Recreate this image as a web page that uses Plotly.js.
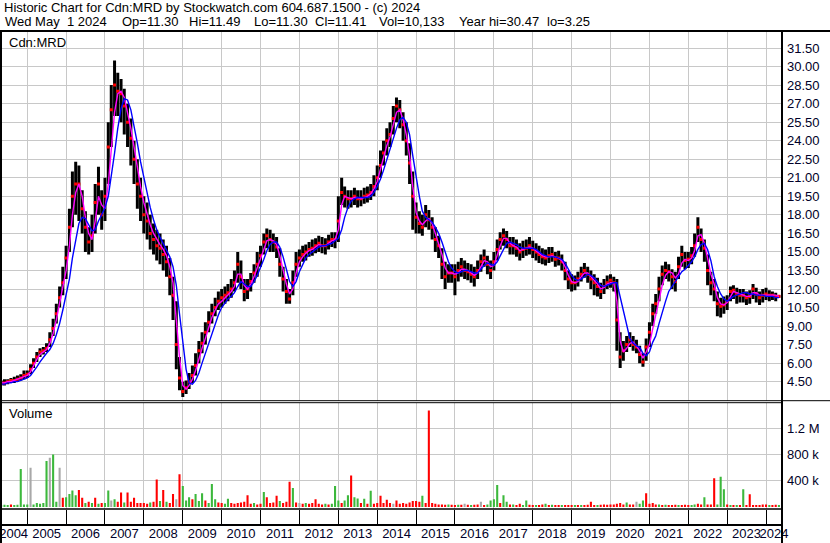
<!DOCTYPE html>
<html>
<head>
<meta charset="utf-8">
<script src="https://cdn.plot.ly/plotly-3.0.1.min.js"></script>
<style>html,body{margin:0;padding:0;background:#fff;}#chart{width:830px;height:543px;}</style>
</head>
<body>
<div id="chart"></div>
<script>
// ---- DATA (monthly, May 2004 .. May 2024) ----
const firstMonth = {year: 2004, month: 5};
const priceHigh = [
 4.6,4.7,4.7,4.8,4.9,5.0,5.1,5.4,
 5.4,5.9,6.4,6.9,7.2,7.3,7.6,8.5,9.6,10.8,12.2,13.8,
 15.5,18.5,21.5,22.3,22.0,20.0,18.3,17.0,18.0,20.5,21.9,20.0,
 21.0,25.5,28.5,30.5,29.5,29.0,28.2,27.0,25.8,24.0,22.5,21.0,
 19.5,19.0,18.0,17.3,16.8,16.5,16.0,15.5,14.5,13.0,11.0,6.5,
 4.5,4.6,5.2,5.8,6.8,7.8,8.5,9.3,10.2,10.8,11.3,11.8,
 12.0,12.2,12.4,12.8,13.5,15.0,14.3,12.8,12.8,13.3,14.0,15.0,
 15.5,16.5,16.9,16.8,16.5,16.2,15.3,13.8,12.8,12.0,13.5,15.0,
 15.2,15.5,15.6,15.8,16.0,16.1,16.3,16.2,16.1,16.4,16.6,16.6,
 19.5,21.0,20.3,20.0,20.0,20.2,20.0,20.0,20.2,20.3,20.5,21.2,
 22.0,23.2,24.0,25.0,25.5,26.8,27.5,27.3,26.3,25.5,23.8,21.5,
 19.0,18.3,18.0,18.8,18.4,17.8,17.0,16.3,15.3,14.2,14.0,14.0,
 14.0,14.2,14.5,14.3,14.1,14.0,13.8,14.3,14.8,15.2,14.7,14.3,
 15.0,16.0,16.6,16.9,16.7,16.2,16.2,16.0,15.7,15.9,16.0,16.2,
 15.9,15.7,15.5,15.3,15.2,15.4,15.4,15.0,15.1,14.8,14.2,13.5,
 13.2,13.1,13.4,13.8,14.1,13.8,13.5,13.2,12.9,12.5,12.8,13.1,
 13.2,13.0,12.8,8.5,7.8,8.2,8.5,8.2,7.9,7.4,6.8,8.0,
 9.3,10.8,11.6,13.0,13.9,14.2,14.0,13.6,13.4,14.6,15.5,15.0,
 15.0,15.4,16.5,17.8,16.9,16.0,14.8,13.4,12.8,11.8,11.3,11.4,
 11.5,12.2,12.3,12.1,12.0,12.0,11.8,11.9,12.4,12.1,11.8,12.0,
 12.1,11.9,11.8,11.7,11.49];
const priceLow = [
 4.2,4.2,4.3,4.4,4.4,4.5,4.6,4.7,
 4.8,5.1,5.6,6.1,6.5,6.7,6.9,7.3,8.2,9.2,10.5,11.5,
 12.8,15.0,17.0,18.0,17.5,16.5,15.0,14.8,15.0,16.5,18.0,16.8,
 17.5,20.5,23.5,26.0,26.0,25.5,24.5,23.5,22.0,20.5,18.5,17.5,
 16.5,16.0,15.2,14.8,14.3,14.0,13.5,13.0,11.5,9.5,5.5,3.8,
 3.25,3.5,3.9,4.4,5.0,6.0,6.8,7.5,8.5,9.2,9.8,10.3,
 10.5,10.8,11.0,11.3,11.8,12.5,12.0,11.0,11.2,11.8,12.5,13.0,
 13.8,14.8,15.3,15.0,15.0,14.5,13.0,11.8,10.8,10.8,11.5,13.0,
 13.8,14.2,14.3,14.6,14.7,14.9,15.0,14.9,14.8,15.2,15.4,15.3,
 15.8,18.8,18.6,18.5,18.6,18.8,18.6,18.7,18.9,19.0,19.2,19.5,
 20.0,21.0,22.0,22.8,23.5,24.5,25.5,25.0,24.0,22.8,20.5,16.8,
 16.5,16.5,16.3,17.0,16.8,16.0,15.0,14.5,12.8,12.0,12.5,12.5,
 11.5,12.6,13.0,12.8,12.7,12.5,12.2,12.8,13.4,13.8,13.2,12.8,
 13.5,14.3,15.2,15.5,15.3,14.8,14.8,14.6,14.3,14.5,14.7,14.8,
 14.5,14.3,14.1,14.0,13.9,14.1,14.2,13.8,13.9,13.5,12.7,12.0,
 11.8,11.9,12.2,12.6,12.9,12.5,12.0,11.5,11.4,11.2,11.6,12.0,
 12.1,11.8,7.0,5.6,6.2,6.9,7.3,7.0,6.8,6.0,5.7,6.2,
 7.3,9.0,10.0,11.0,12.3,12.8,12.6,12.0,11.8,12.8,13.8,13.6,
 13.7,14.0,14.6,15.8,15.0,14.2,12.3,11.5,11.0,9.8,9.7,10.0,
 10.3,11.0,11.2,10.8,10.9,10.9,10.7,10.8,11.2,10.9,10.7,10.9,
 11.1,11.0,11.1,11.0,11.30];
const priceClose = [
 4.4,4.4,4.5,4.6,4.6,4.7,4.8,5.0,
 5.1,5.5,6.0,6.5,6.9,7.0,7.2,7.9,8.8,10.0,11.3,12.5,
 14.5,17.0,19.5,20.5,20.5,18.5,17.0,15.8,16.3,19.0,20.5,18.0,
 19.5,23.5,26.5,28.5,28.0,27.8,26.8,25.5,24.2,22.5,20.5,19.5,
 18.0,17.5,16.5,16.0,15.5,15.3,14.8,14.2,13.0,11.5,7.5,4.8,
 3.7,4.0,4.5,5.0,5.8,7.0,7.6,8.5,9.3,10.0,10.5,11.0,
 11.3,11.5,11.7,12.0,12.5,14.0,13.0,11.8,12.0,12.6,13.3,14.0,
 14.7,15.8,16.3,16.0,15.8,15.4,14.0,12.8,11.8,11.2,12.5,14.0,
 14.5,14.8,15.0,15.2,15.3,15.5,15.7,15.5,15.5,15.8,16.0,16.0,
 17.5,19.8,19.5,19.3,19.3,19.5,19.3,19.3,19.5,19.6,19.8,20.3,
 21.0,22.0,23.0,24.0,24.5,25.8,26.8,26.5,25.3,24.0,22.2,19.5,
 17.8,17.3,17.0,18.0,17.6,17.0,16.0,15.5,14.0,13.0,13.3,13.3,
 13.0,13.5,13.8,13.5,13.4,13.2,13.0,13.5,14.2,14.5,14.0,13.5,
 14.2,15.2,16.0,16.3,16.0,15.5,15.5,15.3,15.0,15.2,15.3,15.5,
 15.2,15.0,14.8,14.6,14.5,14.7,14.8,14.4,14.5,14.2,13.5,12.8,
 12.5,12.5,12.8,13.2,13.5,13.2,12.8,12.5,12.2,11.8,12.2,12.5,
 12.7,12.5,9.5,6.5,7.0,7.5,7.9,7.5,7.3,6.7,6.1,7.3,
 8.5,10.0,10.8,12.0,13.2,13.5,13.4,13.0,12.6,13.8,14.8,14.3,
 14.4,14.7,15.5,17.0,16.0,15.3,13.5,12.5,12.0,10.8,10.6,10.7,
 11.0,11.8,11.9,11.6,11.5,11.5,11.3,11.4,12.0,11.6,11.3,11.5,
 11.6,11.5,11.5,11.4,11.41];
const avgShort = [
 4.4,4.4,4.5,4.5,4.6,4.7,4.8,4.9,
 5.0,5.3,5.8,6.3,6.7,6.9,7.1,7.6,8.4,9.5,10.8,12.0,
 13.5,15.5,18.0,19.8,20.5,19.5,17.8,16.5,16.0,17.5,19.5,18.8,
 18.5,20.5,23.5,26.3,27.8,28.0,27.5,26.3,25.0,23.5,21.8,20.3,
 19.0,18.0,17.2,16.5,16.0,15.6,15.2,14.7,13.8,12.5,9.5,6.5,
 4.2,3.9,4.2,4.7,5.4,6.4,7.2,8.0,8.9,9.7,10.3,10.8,
 11.0,11.3,11.5,11.8,12.2,13.2,13.2,12.3,12.0,12.4,13.0,13.7,
 14.3,15.2,15.9,16.0,15.9,15.6,14.7,13.5,12.4,11.6,12.0,13.3,
 14.2,14.6,14.9,15.1,15.2,15.4,15.6,15.5,15.5,15.7,15.9,16.0,
 16.8,18.8,19.5,19.4,19.3,19.4,19.4,19.3,19.4,19.5,19.7,20.1,
 20.7,21.6,22.6,23.6,24.3,25.3,26.3,26.5,25.7,24.5,22.8,20.3,
 18.2,17.5,17.2,17.5,17.7,17.3,16.5,15.8,14.8,13.7,13.3,13.3,
 13.2,13.3,13.6,13.6,13.5,13.3,13.1,13.3,13.8,14.3,14.2,13.8,
 13.9,14.7,15.5,16.1,16.1,15.7,15.5,15.4,15.1,15.2,15.3,15.4,
 15.3,15.1,14.9,14.7,14.6,14.6,14.7,14.6,14.5,14.3,13.8,13.1,
 12.6,12.5,12.6,13.0,13.3,13.3,13.0,12.7,12.4,12.0,12.1,12.4,
 12.5,12.5,11.0,7.8,6.9,7.2,7.6,7.7,7.4,7.0,6.4,6.9,
 7.5,8.8,10.0,11.1,12.3,13.1,13.4,13.3,12.9,13.2,14.1,14.4,
 14.3,14.5,15.1,16.3,16.4,15.7,14.5,13.2,12.4,11.3,10.8,10.7,
 10.9,11.4,11.8,11.7,11.6,11.5,11.4,11.4,11.7,11.7,11.5,11.5,
 11.5,11.5,11.5,11.5,11.4];
const avgLong = [
 4.3,4.3,4.4,4.4,4.5,4.5,4.6,4.7,
 4.8,5.0,5.3,5.7,6.1,6.5,6.8,7.1,7.6,8.3,9.2,10.3,
 11.5,12.8,14.5,16.0,17.3,17.8,17.7,17.2,16.7,16.8,17.5,18.0,
 18.6,19.5,21.0,23.0,25.0,26.6,27.4,27.3,26.5,25.3,23.8,22.3,
 21.0,19.8,18.6,17.6,16.8,16.2,15.7,15.2,14.6,13.8,12.3,10.0,
 7.5,5.5,4.4,4.3,4.6,5.2,6.0,6.8,7.6,8.4,9.2,9.9,
 10.5,10.9,11.2,11.4,11.7,12.2,12.6,12.4,12.2,12.2,12.6,13.1,
 13.7,14.4,15.1,15.6,15.8,15.8,15.4,14.6,13.6,12.6,12.2,12.6,
 13.4,14.0,14.5,14.8,15.0,15.2,15.4,15.5,15.5,15.6,15.7,15.9,
 16.1,16.8,17.8,18.6,19.1,19.3,19.4,19.4,19.4,19.4,19.5,19.8,
 20.3,20.9,21.6,22.5,23.3,24.1,25.0,25.7,25.9,25.5,24.5,22.8,
 21.0,19.5,18.3,17.8,17.6,17.4,17.0,16.5,15.8,15.0,14.2,13.7,
 13.4,13.3,13.4,13.5,13.5,13.4,13.3,13.3,13.6,13.9,14.1,14.0,
 13.9,14.2,14.7,15.3,15.7,15.8,15.7,15.6,15.4,15.3,15.3,15.3,
 15.3,15.2,15.0,14.8,14.7,14.6,14.6,14.6,14.5,14.4,14.1,13.6,
 13.1,12.8,12.7,12.8,13.0,13.2,13.1,12.9,12.6,12.3,12.2,12.3,
 12.4,12.5,12.5,11.3,10.2,8.9,8.0,7.6,7.4,7.3,6.8,6.6,
 6.9,7.7,8.2,9.2,10.2,11.0,11.8,12.2,12.7,13.0,13.4,13.6,
 13.9,14.2,14.6,15.2,15.6,15.7,15.2,14.3,13.0,12.2,11.6,11.2,
 11.0,11.2,11.4,11.5,11.6,11.7,11.7,11.6,11.6,11.5,11.5,11.5,
 11.4,11.4,11.4,11.3,11.3];
// volume in thousands of shares
const volumeK = [
 30,35,30,40,30,35,580,40,
 40,600,40,60,50,60,700,750,800,80,600,140,
 150,200,250,180,260,140,60,80,60,140,50,60,
 60,250,100,120,80,220,70,220,80,140,60,60,
 60,50,70,80,420,90,260,80,60,200,120,500,
 320,100,150,120,200,90,210,100,60,350,120,70,
 60,50,125,60,50,60,70,80,180,50,60,40,
 50,230,150,60,70,170,90,60,80,385,290,70,
 60,50,60,50,60,120,50,40,50,40,50,320,
 100,60,100,180,480,150,130,60,125,50,246,50,
 60,170,60,110,60,50,100,50,60,50,70,90,
 90,80,170,60,1470,60,50,40,40,35,40,35,
 30,35,35,50,35,30,35,40,80,30,40,100,
 120,335,60,180,80,40,40,30,50,30,100,35,
 30,30,30,40,50,30,35,30,30,30,30,30,
 30,30,30,30,30,35,80,30,30,35,40,35,
 40,40,50,60,40,70,40,40,80,50,100,210,
 50,60,40,40,30,35,30,30,35,30,30,35,
 30,30,40,50,40,150,40,40,440,40,460,270,
 40,30,30,30,30,270,30,195,30,30,30,40,
 40,30,30,35,30];
// u = up day, d = down day, n = unchanged (one letter per month)
const volumeDirByYear = [
 "uuuduuuu",
 "unuuuu"+"unuund", "uuuudd"+"ududud", "uunudd"+"uddddd", "dduddu"+"duddnd",
 "uuuduu"+"uduuud", "duuddd"+"ddddud", "dudddd"+"udddud", "nduddd"+"dduduu",
 "uduudu"+"ududud", "dddddn"+"dddddd", "dduddd"+"ddddud", "dudndu"+"ddnduu",
 "uuduud"+"udduud", "duddud"+"uddudd", "dududd"+"dduddd", "dddddu"+"ddnuud",
 "dddudu"+"dddudd", "duuddu"+"ddduuu", "dududu"+"dddddd",
 "duddu"];
const yearLabels = ["2004","2005","2006","2007","2008","2009","2010","2011","2012","2013","2014","2015","2016","2017","2018","2019","2020","2021","2022","2023","2024"];
const priceTickFirst = 4.5, priceTickLast = 31.5, priceTickStep = 1.5;
const volumeTicks = [400, 800, 1200];
const volumeTickText = ["400 k", "800 k", "1.2 M"];
const headerLine1 = "Historic Chart for Cdn:MRD by Stockwatch.com 604.687.1500 - (c) 2024";
const headerFields = ["Wed May\u00a0\u00a01 2024", "Op=11.30", "Hi=11.49", "Lo=11.30", "Cl=11.41", "Vol=10,133", "Year hi=30.47", "lo=3.25"];

// ---- build ----
function monthDate(i){
  const t = firstMonth.month - 1 + i;
  const y = firstMonth.year + Math.floor(t/12);
  const m = t % 12 + 1;
  return y + "-" + String(m).padStart(2,"0") + "-01";
}
const dates = priceHigh.map((_, i) => monthDate(i));
const rangeStart = "2004-04-20", rangeEnd = "2024-05-30";

const barX = [], barY = [];
dates.forEach((d, i) => { barX.push(d, d, null); barY.push(priceLow[i], priceHigh[i], null); });

const volumeDir = volumeDirByYear.join("").split("");
const dirColor = {u: "#3cb83c", d: "#ff0000", n: "#a8a8a8"};
const volColors = volumeK.map((_, i) => dirColor[volumeDir[i]] || "#ff0000");

const priceTicks = [];
for (let v = priceTickFirst; v <= priceTickLast + 1e-9; v += priceTickStep) priceTicks.push(+v.toFixed(2));

// year label positions: centre of the visible part of each year
const t0 = Date.parse(rangeStart), t1 = Date.parse(rangeEnd);
const labelVals = yearLabels.map(ys => {
  const y = +ys;
  const a = Math.max(Date.parse(y + "-01-01"), t0);
  const b = Math.min(Date.parse((y + 1) + "-01-01"), t1);
  return new Date((a + b) / 2).toISOString().slice(0, 10);
});

const W = 830, H = 543, L = 0, R = 48, T = 30, B = 34;
const PW = W - L - R, PH = H - T - B;
const px = v => (v - L) / PW;
const py = v => (H - B - v) / PH;

const grid = "#c8c8c8";
const FONT = "Arial, 'Liberation Sans', sans-serif";
const axFont = {family: FONT, size: 13, color: "#000028"};
const txtFont = {family: FONT, size: 13, color: "#000"};

const traces = [
  {type: "scatter", mode: "lines", x: barX, y: barY, xaxis: "x", yaxis: "y",
   line: {color: "#000000", width: 3}, connectgaps: false, hoverinfo: "skip"},
  {type: "scatter", mode: "markers", x: dates, y: priceClose, xaxis: "x", yaxis: "y",
   marker: {color: "#ff0000", size: 3, symbol: "square", line: {width: 0}}, hoverinfo: "skip"},
  {type: "scatter", mode: "lines", x: dates, y: avgShort, xaxis: "x", yaxis: "y",
   line: {color: "#ff00ff", width: 1.4}, hoverinfo: "skip"},
  {type: "scatter", mode: "lines", x: dates, y: avgLong, xaxis: "x", yaxis: "y",
   line: {color: "#0000ff", width: 1.4}, hoverinfo: "skip"},
  {type: "bar", x: dates, y: volumeK, xaxis: "x2", yaxis: "y2",
   marker: {color: volColors, line: {width: 0}}, hoverinfo: "skip"},
  {type: "scatter", mode: "markers", x: [dates[0]], y: [null], xaxis: "x3", yaxis: "y2",
   hoverinfo: "skip", showlegend: false}
];

const line = (x0, y0, x1, y1, w) => ({type: "line", xref: "paper", yref: "paper",
  x0: px(x0), y0: py(y0), x1: px(x1), y1: py(y1), line: {color: "#000", width: w}});

// left pixel position of each header field on line 2
const headerFieldX = [3, 120, 187, 252, 313, 377, 457, 545];
const ann = (text, x, y) => ({text, xref: "paper", yref: "paper", x: px(x), y: py(y),
  xanchor: "left", yanchor: "middle", showarrow: false, font: txtFont});

const layout = {
  width: W, height: H, margin: {l: L, r: R, t: T, b: B, pad: 0},
  paper_bgcolor: "#fff", plot_bgcolor: "#fff", showlegend: false, bargap: 0.3,
  xaxis: {type: "date", range: [rangeStart, rangeEnd], domain: [0, 1], anchor: "y",
    tick0: "2005-01-01", dtick: "M12", showticklabels: false, ticks: "",
    showgrid: true, gridcolor: grid, gridwidth: 1, zeroline: false, showline: false},
  xaxis2: {type: "date", range: [rangeStart, rangeEnd], domain: [0, 1], anchor: "y2",
    tick0: "2005-01-01", dtick: "M12", showticklabels: false, ticks: "outside", ticklen: 16,
    tickcolor: "#000", tickwidth: 1,
    showgrid: true, gridcolor: grid, gridwidth: 1, zeroline: false, showline: false},
  xaxis3: {type: "date", range: [rangeStart, rangeEnd], overlaying: "x2", anchor: "y2",
    tickmode: "array", tickvals: labelVals, ticktext: yearLabels, ticks: "", tickangle: 0,
    ticklabeloverflow: "allow",
    showgrid: false, zeroline: false, showline: false, tickfont: axFont, ticklabelstandoff: 15},
  yaxis: {domain: [py(400.7), 1], range: [2.96, 32.96], side: "right", anchor: "x",
    tickmode: "array", tickvals: priceTicks, ticktext: priceTicks.map(v => v.toFixed(2)), ticks: "",
    showgrid: true, gridcolor: grid, zeroline: false, showline: false, tickfont: axFont,
    ticklabelstandoff: 4},
  yaxis2: {domain: [0, py(402.7)], range: [-30.5, 1590.5], side: "right", anchor: "x2",
    tickmode: "array", tickvals: volumeTicks, ticktext: volumeTickText, ticks: "",
    showgrid: true, gridcolor: grid, zeroline: false, showline: false, tickfont: axFont,
    ticklabelstandoff: 4},
  shapes: [
    line(0, 31, W, 31, 2),
    line(1, 30, 1, H, 2),
    line(782, 30, 782, H, 2),
    line(0, 400.7, W, 400.7, 1),
    line(0, 402.7, 782, 402.7, 1),
    line(0, 509, 782, 509, 1.5),
    line(0, 525, 782, 525, 2)
  ],
  annotations: [
    ann(headerLine1, 2, 7.5),
    ...headerFields.map((t, i) => ann(t, headerFieldX[i], 21.5)),
    ann("Cdn:MRD", 7, 42),
    ann("Volume", 7, 413)
  ]
};

Plotly.newPlot("chart", traces, layout, {staticPlot: true, displayModeBar: false});
</script>
</body>
</html>
